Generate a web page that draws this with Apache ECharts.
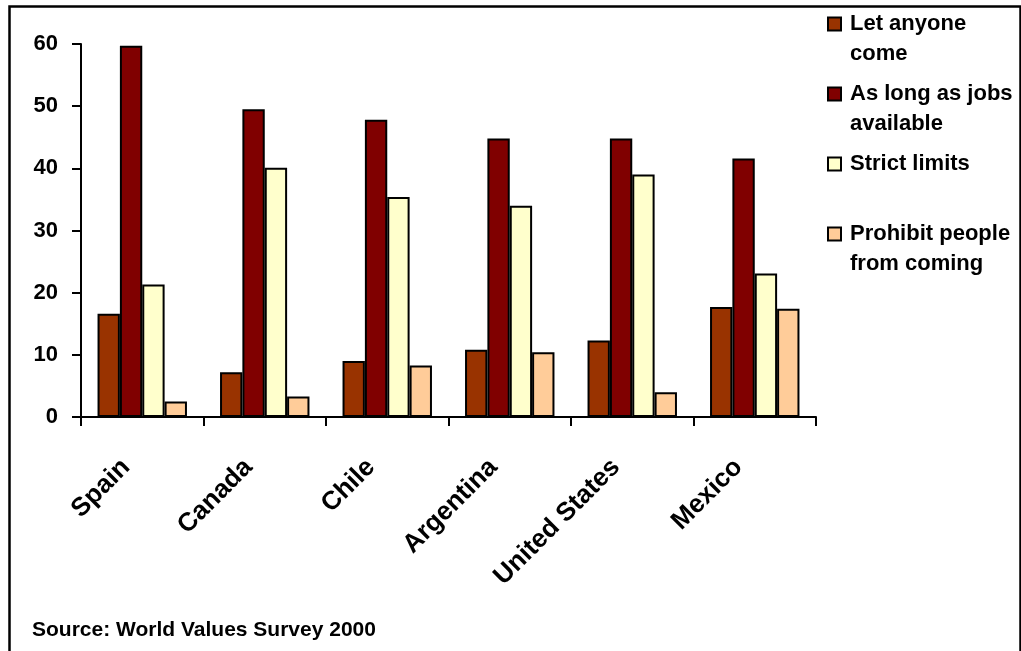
<!DOCTYPE html>
<html>
<head>
<meta charset="utf-8">
<title>Attitudes toward immigration</title>
<script src="https://cdn.jsdelivr.net/npm/echarts@6/dist/echarts.min.js"></script>
<style>
  html, body { margin: 0; padding: 0; background: #fff; }
  #chart { width: 1021px; height: 651px; }
</style>
</head>
<body>
<div id="chart"></div>
<script>
// Countries along the category axis
const countries = ['Spain', 'Canada', 'Chile', 'Argentina', 'United States', 'Mexico'];

// Share of respondents (%) choosing each immigration policy
const letAnyoneCome = [16.6, 7.2, 9.0, 10.8, 12.3, 17.7];
const jobsAvailable = [59.7, 49.5, 47.8, 44.8, 44.8, 41.6];
const strictLimits = [21.3, 40.1, 35.4, 34.0, 39.0, 23.1];
const prohibitComing = [2.5, 3.3, 8.3, 10.4, 4.0, 17.4];

// Series names and the wrapped text shown in the legend.
// A blank line above each entry keeps the first text line level with its swatch.
const seriesNames = ['Let anyone come', 'As long as jobs available', 'Strict limits', 'Prohibit people from coming'];
const legendText = {
  'Let anyone come': ' \nLet anyone\ncome',
  'As long as jobs available': ' \nAs long as jobs\navailable',
  'Strict limits': ' \nStrict limits\n ',
  'Prohibit people from coming': ' \nProhibit people\nfrom coming'
};
const seriesColors = ['#993300', '#800000', '#FFFFCC', '#FFCC99'];
const seriesData = [letAnyoneCome, jobsAvailable, strictLimits, prohibitComing];

const sourceNote = 'Source: World Values Survey 2000';

const FONT = '"Liberation Sans", Arial, sans-serif';

const chart = echarts.init(document.getElementById('chart'), null, { renderer: 'canvas' });

const option = {
  animation: false,
  backgroundColor: '#ffffff',
  title: {
    text: sourceNote,
    left: 32,
    top: 620,
    padding: 0,
    textStyle: { fontFamily: FONT, fontSize: 21, fontWeight: 'bold', color: '#000' }
  },
  legend: {
    orient: 'vertical',
    left: 827,
    top: -21,
    padding: 0,
    itemGap: -20,
    itemWidth: 13,
    itemHeight: 13,
    icon: 'rect',
    data: seriesNames,
    formatter: name => legendText[name],
    itemStyle: { borderColor: '#000', borderWidth: 2 },
    textStyle: {
      fontFamily: FONT,
      fontSize: 22,
      fontWeight: 'bold',
      color: '#000',
      lineHeight: 30,
      padding: [0, 0, 0, 4]
    }
  },
  grid: {
    left: 81,
    right: 205,
    top: 44,
    bottom: 234,
    containLabel: false
  },
  xAxis: {
    type: 'category',
    data: countries,
    boundaryGap: true,
    axisLine: { show: true, lineStyle: { color: '#000', width: 2 } },
    axisTick: { show: true, length: 9, lineStyle: { color: '#000', width: 2 } },
    axisLabel: {
      interval: 0,
      rotate: 45,
      margin: 30,
      padding: [0, 23, 0, 0],
      fontFamily: FONT,
      fontSize: 26,
      fontWeight: 'bold',
      color: '#000'
    },
    splitLine: { show: false }
  },
  yAxis: {
    type: 'value',
    min: 0,
    max: 60,
    interval: 10,
    axisLine: { show: true, lineStyle: { color: '#000', width: 2 } },
    axisTick: { show: true, length: 9, lineStyle: { color: '#000', width: 2 } },
    axisLabel: {
      margin: 23,
      fontFamily: FONT,
      fontSize: 22,
      fontWeight: 'bold',
      color: '#000'
    },
    splitLine: { show: false }
  },
  series: seriesNames.map((name, i) => ({
    name: name,
    type: 'bar',
    data: seriesData[i],
    barGap: '0%',
    barCategoryGap: '27%',
    itemStyle: { color: seriesColors[i], borderColor: '#000', borderWidth: 2 }
  })),
  graphic: [
    {
      type: 'rect',
      left: 7,
      top: 4,
      shape: { x: 0, y: 0, width: 1011, height: 700 },
      style: { fill: 'none', stroke: '#000', lineWidth: 2.5 },
      silent: true
    }
  ]
};

chart.setOption(option);
</script>
</body>
</html>
